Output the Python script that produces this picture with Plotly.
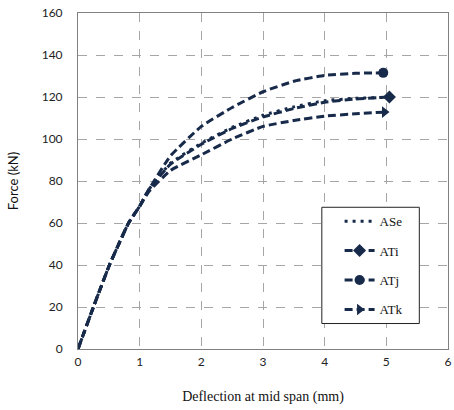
import plotly.graph_objects as go

# ---- data ----
ase_x = [0, 0.25, 0.51, 0.82, 1.0, 1.15, 1.5, 2.0, 2.5, 3.0, 3.5, 4.0, 4.5, 4.95]
ase_y = [0, 20, 40, 60, 68, 76, 88.5, 98, 105.5, 111.3, 115.3, 118.2, 119.4, 119.8]
ati_x = [0, 0.25, 0.51, 0.82, 1.0, 1.15, 1.5, 2.0, 2.5, 3.0, 3.5, 4.0, 4.5, 5.05]
ati_y = [0, 20, 40, 60, 68, 76, 88, 97.5, 105, 110.5, 114.5, 117.5, 119, 120]
atj_x = [0, 0.25, 0.51, 0.82, 1.0, 1.15, 1.5, 2.0, 2.5, 3.0, 3.5, 4.0, 4.5, 4.95]
atj_y = [0, 20, 40, 60, 68, 76, 92, 106, 115, 122.5, 127.5, 130.3, 131.3, 131.5]
atk_x = [0, 0.25, 0.51, 0.82, 1.0, 1.15, 1.5, 2.0, 2.5, 3.0, 3.5, 4.0, 4.5, 4.97]
atk_y = [0, 20, 40, 60, 68, 75, 85, 92.5, 100, 106, 108.8, 110.9, 112, 112.8]

x_ticks = [0, 1, 2, 3, 4, 5, 6]
y_ticks = [0, 20, 40, 60, 80, 100, 120, 140, 160]

COL = "#172a4a"
DASH = "8px,4px"
DOT = "3px,5px"
LW = 3

fig = go.Figure()

series = [
    ("ASe", ase_x, ase_y, DOT, None),
    ("ATi", ati_x, ati_y, DASH, "diamond"),
    ("ATj", atj_x, atj_y, DASH, "circle"),
    ("ATk", atk_x, atk_y, DASH, "triangle-right"),
]

for name, xs, ys, dash, sym in series:
    fig.add_trace(go.Scatter(
        x=xs, y=ys, mode="lines", name=name, legendgroup=name,
        showlegend=(sym is None),
        line=dict(color=COL, width=LW, dash=dash, shape="spline", smoothing=0.4),
    ))
    if sym is not None:
        fig.add_trace(go.Scatter(
            x=xs[-1:], y=ys[-1:], mode="lines+markers", name=name, legendgroup=name,
            showlegend=True,
            line=dict(color=COL, width=LW, dash=dash),
            marker=dict(symbol=sym, size=10, color=COL),
        ))

axis_common = dict(
    showline=True, linecolor="#808080", linewidth=1, mirror=True,
    showgrid=True, gridcolor="#a6a6a6", griddash="dash", gridwidth=1,
    zeroline=False, ticks="", automargin=False,
    tickfont=dict(family="Lato", size=12, color="#222"),
)

fig.update_xaxes(range=[0, 6.0001], tickvals=x_ticks, ticktext=[str(v) for v in x_ticks],
                 ticklabelstandoff=2,
                 title=dict(text="Deflection at mid span (mm)",
                            font=dict(family="Liberation Serif", size=14, color="#111"),
                            standoff=22),
                 **axis_common)
fig.update_yaxes(range=[0, 160], tickvals=y_ticks, ticktext=[str(v) for v in y_ticks],
                 ticklabelstandoff=12,
                 title=dict(text="Force (kN)",
                            font=dict(family="Lato", size=13, color="#111"),
                            standoff=20),
                 **axis_common)

fig.add_shape(type="rect", xref="paper", yref="paper",
              x0=0.659, x1=0.9225, y0=0.0758, y1=0.4218,
              line=dict(color="#222", width=1), fillcolor="white", layer="above")

fig.update_layout(
    width=454, height=410,
    margin=dict(l=78, r=6, t=13, b=61),
    paper_bgcolor="white", plot_bgcolor="white",
    legend=dict(x=0.707, y=0.4248, xanchor="left", yanchor="top",
                bgcolor="rgba(0,0,0,0)", borderwidth=0,
                traceorder="grouped", tracegroupgap=9.5,
                font=dict(family="Liberation Serif", size=13, color="#111")),
)

fig.write_html("out.html", config={"displayModeBar": False},
               post_script="document.body.style.margin='0px';document.body.style.padding='0px';")
